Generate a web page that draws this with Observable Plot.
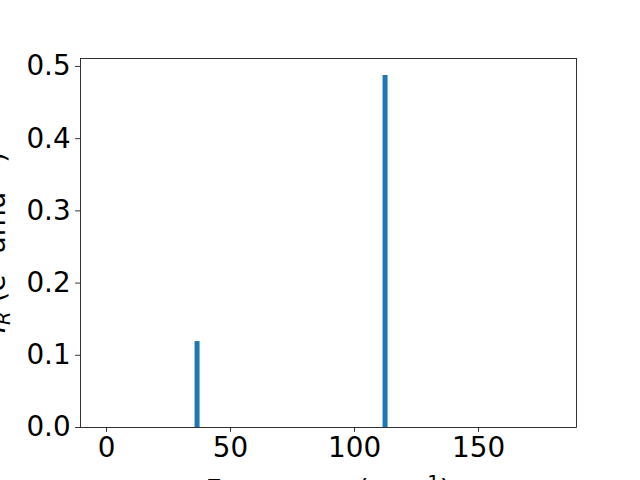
<!DOCTYPE html>
<html>
<head>
<meta charset="utf-8">
<script src="https://cdn.jsdelivr.net/npm/d3@7"></script>
<script src="https://cdn.jsdelivr.net/npm/@observablehq/plot@0.6"></script>
<style>
  html, body { margin: 0; padding: 0; background: white; }
</style>
</head>
<body>
<div id="chart"></div>
<script>
const frequencies = [36.5, 112.3];
const intensities = [0.119, 0.4875];
const xTicks = [0, 50, 100, 150];
const yTicks = [0, 0.1, 0.2, 0.3, 0.4, 0.5];
const xDomain = [-10.5, 189.5];
const yDomain = [0, 0.511];

const data = frequencies.map((f, i) => ({freq: f, inten: intensities[i]}));

const plot = Plot.plot({
  width: 640,
  height: 480,
  marginLeft: 80,
  marginRight: 64,
  marginTop: 58,
  marginBottom: 53,
  style: {fontFamily: "DejaVu Sans", fontSize: "27.8px", color: "black", background: "white"},
  x: {domain: xDomain, ticks: xTicks, label: null},
  y: {domain: yDomain, ticks: yTicks, label: null, tickFormat: d3.format(".1f")},
  marks: [
    Plot.ruleX(data, {x: "freq", y1: 0, y2: "inten", stroke: "#1f77b4", strokeWidth: 5}),
    Plot.frame({stroke: "black", strokeWidth: 0.8, strokeOpacity: 1}),
    Plot.axisX({ticks: xTicks, tickSize: 4.9, tickPadding: 5, strokeWidth: 0.8, label: null, fill: "black"}),
    Plot.axisY({ticks: yTicks, tickSize: 4.9, tickPadding: 5, strokeWidth: 0.8, label: null, fill: "black", tickFormat: d3.format(".1f")})
  ]
});

document.getElementById("chart").appendChild(plot);

const svg = d3.select(plot);
// x axis label
const xl = svg.append("text")
  .attr("x", 328).attr("y", 500)
  .attr("text-anchor", "middle")
  .attr("font-size", "27.8px").attr("font-family", "DejaVu Sans").attr("fill", "black");
xl.append("tspan").text("Frequency (cm");
xl.append("tspan").attr("dy", -11).attr("font-size", "19.5px").text("\u22121");
xl.append("tspan").attr("dy", 11).text(")");

// y axis label
const yl = svg.append("text")
  .attr("transform", "translate(5,242.5) rotate(-90)")
  .attr("text-anchor", "middle")
  .attr("font-size", "27.8px").attr("font-family", "DejaVu Sans").attr("fill", "black");
yl.append("tspan").attr("font-style", "italic").text("I");
yl.append("tspan").attr("font-style", "italic").attr("dy", 5).attr("font-size", "19.5px").text("R");
yl.append("tspan").attr("dy", -5).text(" (e");
yl.append("tspan").attr("dy", -11).attr("font-size", "19.5px").text("2");
yl.append("tspan").attr("dy", 11).text(" amu");
yl.append("tspan").attr("dy", -11).attr("font-size", "19.5px").text("\u22121");
yl.append("tspan").attr("dy", 11).text(")");
</script>
</body>
</html>
